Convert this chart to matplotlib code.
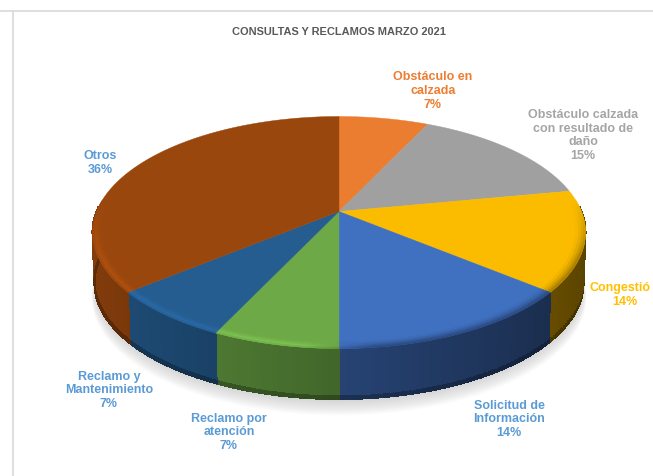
import numpy as np
import matplotlib
matplotlib.use("Agg")
import matplotlib.pyplot as plt
from matplotlib.collections import PolyCollection
from matplotlib.colors import to_rgb

TITLE = "CONSULTAS Y RECLAMOS MARZO 2021"
categories = ["Obstáculo en\ncalzada", "Obstáculo calzada\ncon resultado de\ndaño", "Congestió",
              "Solicitud de\nInformación", "Reclamo por\natención", "Reclamo y\nMantenimiento", "Otros"]
values = [7, 15, 14, 14, 7, 7, 36]
slice_colors = ["#EB7D31", "#A0A0A0", "#FBBC00", "#4070C0", "#6DAA47", "#255D91", "#9A470D"]
label_colors = ["#ED7D31", "#A5A5A5", "#FFC000", "#5B9BD5", "#5B9BD5", "#5B9BD5", "#5B9BD5"]

plt.rcParams["font.family"] = ["Liberation Sans", "DejaVu Sans"]
fig = plt.figure(figsize=(6.53, 4.77), dpi=100, facecolor="white")
ax = fig.add_axes([0, 0, 1, 1])
ax.set_xlim(0, 653)
ax.set_ylim(477, 0)
ax.axis("off")

# perspective projection of the pie's unit circle
CX, CY, A, B, P = 339.0, 212.5, 242.4, 112.2, 0.181
DEPTH = 50.5


def project(theta, r=1.0, drop=0.0):
    u, s = r * np.sin(theta), -r * np.cos(theta)
    d = 1 - P * s
    shrink = 1 - 0.008 * (drop / DEPTH)
    return np.column_stack([CX + shrink * A * u / d, CY + B * s / d + drop])


frac = np.cumsum([0] + values) / sum(values) * 2 * np.pi
ramp = np.linspace(0, 2 * np.pi, 400)

# frame lines of the chart area
ax.plot([0, 653], [11.5, 11.5], color="#D9D9D9", lw=1.2, zorder=1)
ax.plot([13, 13], [11.5, 477], color="#D9D9D9", lw=1.2, zorder=1)

# soft drop shadow
for i in range(12):
    pts = project(ramp, r=1.0 + 0.0012 * i, drop=DEPTH + 2 + 1.1 * i)
    ax.fill(pts[:, 0], pts[:, 1], color="#808080", alpha=0.026, lw=0, zorder=2)


def mix(c, f):
    c = np.array(c)
    return tuple(np.clip(c * f, 0, 1))


# side wall, with a horizontal gradient per slice
polys, cols = [], []
for k, base in enumerate(slice_colors):
    t = np.linspace(frac[k], frac[k + 1], max(int(values[k] * 3), 6) + 1)
    for a, b in zip(t[:-1], t[1:]):
        m = (a + b) / 2
        if -np.cos(m) < -0.05:
            continue
        f = 0.60 - 0.25 * np.sin(m)
        ends = np.array([a, b])
        for d0, d1, g in [(0, 0.95, 1.0), (0.95, 1.0, 0.72)]:
            top = project(ends, drop=DEPTH * d0)
            bot = project(ends, drop=DEPTH * d1)
            polys.append(np.vstack([top, bot[::-1]]))
            cols.append(mix(to_rgb(base), f * g))
pc = PolyCollection(polys, facecolors=cols, edgecolors=cols, linewidths=0.8,
                    antialiaseds=False, zorder=3)
ax.add_collection(pc)

# top faces
for k, base in enumerate(slice_colors):
    t = np.linspace(frac[k], frac[k + 1], 120)
    rim = project(t)
    pts = np.vstack([[CX, CY], rim])
    ax.fill(pts[:, 0], pts[:, 1], color=base, ec=base, lw=0.3, zorder=4)

# bevel along the rim: lit on the left and front, dark on the right
radii = [0.96, 0.972, 0.983, 0.992, 1.0]
lit = [1.02, 1.08, 1.14, 1.06]
dark = [0.96, 0.88, 0.78, 0.68]
polys, cols = [], []
for k, base in enumerate(slice_colors):
    t = np.linspace(frac[k], frac[k + 1], max(int(values[k] * 6), 12) + 1)
    for a, b in zip(t[:-1], t[1:]):
        m = (a + b) / 2
        s, u = -np.cos(m), np.sin(m)
        vis = np.clip((s + 0.1) / 0.5, 0, 1)
        if vis <= 0:
            continue
        w = np.clip((u + 0.12) / 0.24, 0, 1)
        ends = np.array([a, b])
        for j in range(4):
            r0, r1 = radii[j], radii[j + 1]
            light = lit[j] * (1 - w) + dark[j] * w
            f = 1 + (light - 1) * vis
            c = np.clip(np.array(to_rgb(base)) * f, 0, 1)
            polys.append(np.vstack([project(ends, r=r0), project(ends, r=r1)[::-1]]))
            cols.append(tuple(c))
pc = PolyCollection(polys, facecolors=cols, edgecolors=cols, linewidths=0.3, zorder=5)
ax.add_collection(pc)

# text
ax.text(339, 32, TITLE, ha="center", va="center", fontsize=7.95, fontweight="bold", color="#595959", zorder=6)
centres = [(433, 91), (583, 135.5), None, (509, 419.5), (229, 432.5), (109, 390.5), (100, 163)]
for k, name in enumerate(categories):
    if centres[k] is None:
        continue
    ax.text(centres[k][0], centres[k][1], f"{name}\n{values[k]}%", ha="center", va="center",
            fontsize=9.0, fontweight="bold", color=label_colors[k], linespacing=1.2, zorder=6)
ax.text(589, 288, categories[2], ha="left", va="center", fontsize=9.0, fontweight="bold",
        color=label_colors[2], zorder=6)
ax.text(625, 302, f"{values[2]}%", ha="center", va="center", fontsize=9.0, fontweight="bold",
        color=label_colors[2], zorder=6)

fig.savefig("out.png", dpi=100, facecolor="white")
